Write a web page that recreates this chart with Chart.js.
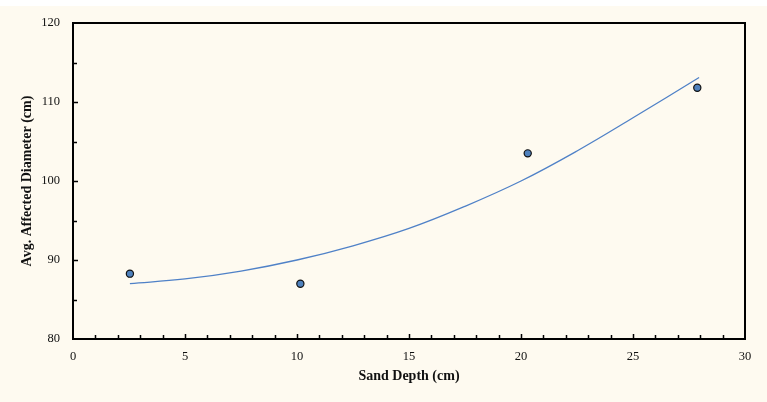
<!DOCTYPE html>
<html>
<head>
<meta charset="utf-8">
<script src="https://cdn.jsdelivr.net/npm/chart.js@4/dist/chart.umd.min.js"></script>
<style>
  html, body { margin: 0; padding: 0; background: #fff; }
  #wrap { width: 767px; height: 402px; }
</style>
</head>
<body>
<div id="wrap"><canvas id="sand_chart"></canvas></div>
<script>
// measured points
const depth = [2.54, 10.15, 20.3, 27.87];
const diameter = [88.27, 87.0, 103.5, 111.8];

// trendline
const trend_x = [2.54, 5, 7.5, 10, 12.5, 15, 17.5, 20, 22.5, 25, 27.95];
const trend_y = [87.0, 87.6, 88.6, 90.0, 91.8, 94.0, 96.8, 100.0, 103.8, 108.0, 113.1];

const x_ticks = [0, 5, 10, 15, 20, 25, 30];
const y_ticks = [80, 90, 100, 110, 120];

const x_title = 'Sand Depth (cm)';
const y_title = 'Avg. Affected Diameter (cm)';

const serif = "'Liberation Serif', 'Times New Roman', serif";

const points = depth.map((d, i) => ({x: d, y: diameter[i]}));
const trend = trend_x.map((d, i) => ({x: d, y: trend_y[i]}));

// background, frame and inward tick marks
const frame = {
    id: 'frame',
    beforeDraw(chart) {
        const c = chart.ctx;
        c.save();
        c.fillStyle = '#ffffff';
        c.fillRect(0, 0, chart.width, chart.height);
        c.fillStyle = '#fefaf0';
        c.fillRect(0, 6, chart.width, chart.height - 6);
        c.restore();
    },
    afterDraw(chart) {
        const c = chart.ctx;
        const a = chart.chartArea;
        const xs = chart.scales.x, ys = chart.scales.y;
        c.save();
        c.strokeStyle = '#000';
        c.lineWidth = 1.5;
        c.beginPath();
        for (let v = x_ticks[0] + 1; v < x_ticks[x_ticks.length - 1]; v++) {
            const px = Math.round(xs.getPixelForValue(v)) + 0.5;
            const len = v % 5 === 0 ? 5 : 4;
            c.moveTo(px, a.bottom);
            c.lineTo(px, a.bottom - len);
        }
        for (let v = y_ticks[0] + 5; v < y_ticks[y_ticks.length - 1]; v += 5) {
            const py = Math.round(ys.getPixelForValue(v)) + 0.5;
            const len = v % 10 === 0 ? 5 : 4;
            c.moveTo(a.left, py);
            c.lineTo(a.left + len, py);
        }
        c.stroke();
        c.lineWidth = 2;
        c.strokeRect(a.left, a.top, a.right - a.left, a.bottom - a.top);
        c.restore();
    }
};

const ctx = document.getElementById('sand_chart').getContext('2d');

new Chart(ctx, {
    type: 'scatter',
    data: {
        datasets: [{
            label: 'Measured',
            data: points,
            backgroundColor: '#4f81bd',
            borderColor: '#111',
            borderWidth: 1.2,
            pointRadius: 3.6,
            pointHoverRadius: 3.6
        }, {
            label: 'Trend',
            data: trend,
            showLine: true,
            borderColor: '#4f81c7',
            borderWidth: 1.3,
            pointRadius: 0,
            tension: 0.4,
            fill: false
        }]
    },
    options: {
        responsive: true,
        maintainAspectRatio: false,
        animation: false,
        events: [],
        layout: { padding: { top: 23, right: 22, bottom: 0, left: 0 } },
        plugins: {
            legend: { display: false },
            tooltip: { enabled: false }
        },
        scales: {
            x: {
                type: 'linear',
                min: x_ticks[0],
                max: x_ticks[x_ticks.length - 1],
                afterFit: (s) => { s.height = 63; },
                afterBuildTicks: (s) => { s.ticks = x_ticks.map(v => ({value: v})); },
                grid: { display: false, drawTicks: false },
                border: { display: false },
                ticks: {
                    padding: 10,
                    color: '#111',
                    maxRotation: 0,
                    font: { family: serif, size: 12.5 }
                },
                title: {
                    display: true,
                    text: x_title,
                    color: '#111',
                    padding: { top: 4, bottom: 17 },
                    font: { family: serif, size: 14, weight: 'bold' }
                }
            },
            y: {
                type: 'linear',
                min: y_ticks[0],
                max: y_ticks[y_ticks.length - 1],
                afterFit: (s) => { s.width = 73; },
                afterBuildTicks: (s) => { s.ticks = y_ticks.map(v => ({value: v})); },
                grid: { display: false, drawTicks: false },
                border: { display: false },
                ticks: {
                    padding: 13,
                    color: '#111',
                    font: { family: serif, size: 12.5 }
                },
                title: {
                    display: true,
                    text: y_title,
                    color: '#111',
                    padding: { top: 19, bottom: 4 },
                    font: { family: serif, size: 14, weight: 'bold' }
                }
            }
        }
    },
    plugins: [frame]
});
</script>
</body>
</html>
